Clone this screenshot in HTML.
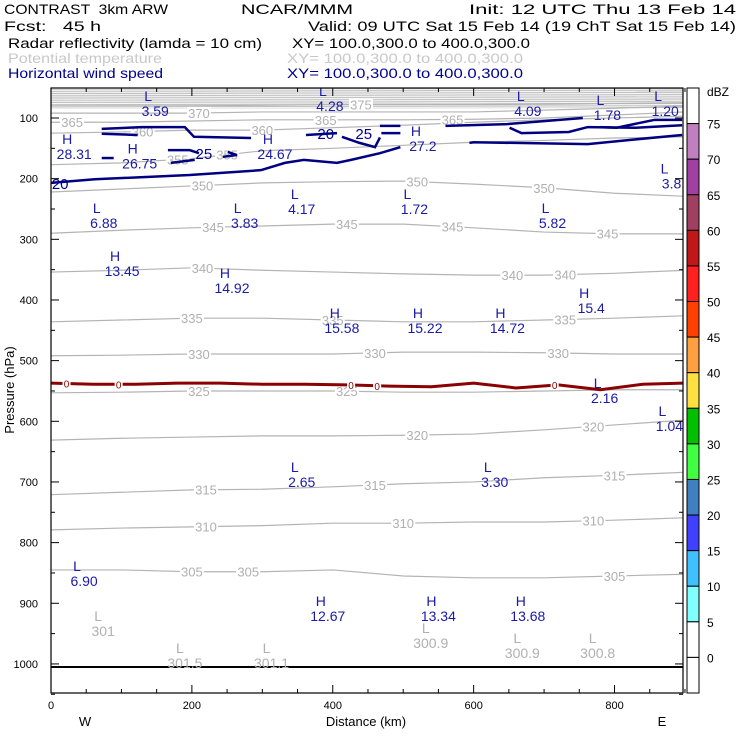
<!DOCTYPE html>
<html><head><meta charset="utf-8"><style>
html,body{margin:0;padding:0;background:#fff}
svg{display:block;font-family:"Liberation Sans",sans-serif}
text{white-space:pre}
</style></head><body>
<svg id="chart" width="740" height="740" viewBox="0 0 740 740" xmlns="http://www.w3.org/2000/svg">
<g font-size="14" lengthAdjust="spacingAndGlyphs">
<text x="4" y="14" textLength="164" lengthAdjust="spacingAndGlyphs">CONTRAST  3km ARW</text>
<text x="241" y="14" textLength="112" lengthAdjust="spacingAndGlyphs">NCAR/MMM</text>
<text x="469" y="14" textLength="267" lengthAdjust="spacingAndGlyphs">Init: 12 UTC Thu 13 Feb 14</text>
<text x="4" y="31" textLength="97" lengthAdjust="spacingAndGlyphs">Fcst:   45 h</text>
<text x="308" y="31" textLength="428" lengthAdjust="spacingAndGlyphs">Valid: 09 UTC Sat 15 Feb 14 (19 ChT Sat 15 Feb 14)</text>
<text x="8" y="48" textLength="254" lengthAdjust="spacingAndGlyphs">Radar reflectivity (lamda = 10 cm)</text>
<text x="292" y="48" textLength="238" lengthAdjust="spacingAndGlyphs">XY= 100.0,300.0 to 400.0,300.0</text>
<text x="8" y="63" fill="#c8c8c8" textLength="154" lengthAdjust="spacingAndGlyphs">Potential temperature</text>
<text x="287" y="63" fill="#c8c8c8" textLength="236" lengthAdjust="spacingAndGlyphs">XY= 100.0,300.0 to 400.0,300.0</text>
<text x="8" y="78" fill="#000090" textLength="155" lengthAdjust="spacingAndGlyphs">Horizontal wind speed</text>
<text x="287" y="78" fill="#000090" textLength="236" lengthAdjust="spacingAndGlyphs">XY= 100.0,300.0 to 400.0,300.0</text>
</g>
<defs><clipPath id="pc"><rect x="51" y="88" width="632" height="605"/></clipPath></defs>
<g id="plot" clip-path="url(#pc)"></g>
<g id="axes"></g>
<g id="cbar"></g>
<text x="14" y="390" transform="rotate(-90 14 390)" text-anchor="middle" font-size="13">Pressure (hPa)</text>
<text x="366" y="726" text-anchor="middle" font-size="13">Distance (km)</text>
<text x="85" y="726" text-anchor="middle" font-size="13">W</text>
<text x="662" y="726" text-anchor="middle" font-size="13">E</text>
</svg>
<script>
const NS="http://www.w3.org/2000/svg";
// axis domain
const kmTicks=[0,200,400,600,800];
const pTicks=[100,200,300,400,500,600,700,800,900,1000];
// potential temperature contours (K), pressure (hPa) at distances thetaKm
const thetaKm=[0,100,200,300,400,500,600,700,800,900];
const thetaLevels=[375,370,365,360,355,350,345,340,335,330,325,320,315,310,305];
const thetaP=[
[80,80,80,79,78,78,78,77,76,75],
[92,92,92,90,90,90,90,87,84,80],
[107,107,105,103,103,103,102,100,95,90],
[125,123,120,120,116,112,107,103,100,97],
[177,174,167,154,150,145,140,137,133,131],
[222,217,212,207,205,204,209,215,224,229],
[290,285,281,278,275,275,281,288,291,291],
[354,351,347,351,354,357,359,359,356,351],
[436,433,430,430,433,436,436,433,430,426],
[492,491,489,489,489,486,486,487,489,489],
[553,552,550,550,550,552,552,550,548,548],
[631,628,626,624,624,623,621,614,606,598],
[721,717,713,712,708,703,700,693,689,684],
[779,776,774,772,768,768,766,766,763,759],
[845,845,848,848,845,855,858,858,855,852]];
// theta labels: [level, km]
const thetaLabelLevel=[365,370,365,375,365,360,360,355,355,350,350,350,345,345,345,345,340,340,340,335,335,335,330,330,330,325,325,320,320,315,315,315,310,310,310,305,305,305];
const thetaLabelKm=[30,210,390,440,570,130,300,180,250,215,520,700,230,420,570,790,215,655,730,200,400,730,210,460,720,210,420,520,770,220,460,800,220,500,770,200,280,800];
// wind speed contours (m/s) : km and hPa
const windKm=[[0,62,197,298,332,359,406,426,467,496],[560,648,755],[651,668,735,762,830,896],[594,600,762,823,896],[779,803,857,896],[362,406],[413,438,460,467],[467,496],[469,496],[72,129,190,203,284],[72,123],[166,197,210],[251,264,244],[170,204],[72,89]];
const windP=[[207,201,194,186,174,169,174,169,158,148],[113,110,100],[116,125,123,115,116,112],[141,140,143,136,128],[115,116,103,103],[128,125],[131,141,148,132],[113,113],[125,125],[118,115,115,131,133],[126,128],[153,153,158],[156,161,164],[174,169],[166,166]];
const windLabelText=["20","25","20","25"];
const windLabelKm=[13,217,390,444];
const windLabelP=[207,158,125,125];
// reflectivity 0 dBZ contour
const dbzKm=[0,60,120,180,240,300,360,420,480,540,600,660,720,780,840,900];
const dbzP=[537,539,539,537,537,539,539,540,542,543,537,545,540,548,539,537];
const dbzLabelKm=[22,96,426,463,715];
// highs/lows
const hlType=["L","L","L","L","L","H","H","H","H","L","L","L","L","L","L","H","H","H","H","H","H","L","L","L","L","L","H","H","H"];
const hlVal=["3.59","4.28","4.09","1.78","1.20","28.31","26.75","24.67","27.2","3.8","4.17","1.72","6.88","3.83","5.82","13.45","14.92","15.58","15.22","14.72","15.4","2.16","1.04","2.65","3.30","6.90","12.67","13.34","13.68"];
const hlKm=[138,386,667,780,862,23,116,308,518,871,346,506,65,265,702,91,247,403,521,638,757,776,868,346,620,37,383,540,667];
const hlP=[62,54,62,69,62,133,149,133,120,182,224,224,247,247,247,326,354,420,420,420,387,535,581,674,674,837,895,895,895];
// theta lows near surface
const tlVal=["301","301.5","301.1","300.9","300.9","300.8"];
const tlKm=[67,183,306,532,662,769];
const tlP=[919,972,972,939,956,956];
const groundP=1005;
// colorbar
const cbLevels=[75,70,65,60,55,50,45,40,35,30,25,20,15,10,5,0];
const cbColors=["#ffffff","#c080c0","#a040a0","#a04060","#c01818","#ff2020","#ff4000","#ffa040","#ffe040","#00c000","#40ff40","#4080c0","#4040ff","#40c0ff","#80ffff","#ffffff","#ffffff"];

const X=km=>51+km*0.7044, Y=p=>118+(p-100)*0.6066;
function el(t,a,parent){const e=document.createElementNS(NS,t);for(const k in a)e.setAttribute(k,a[k]);parent.appendChild(e);return e;}
const plot=document.getElementById('plot'),axes=document.getElementById('axes'),cbar=document.getElementById('cbar');
// top stratosphere band
let band=el('rect',{x:51,y:88,width:632,height:Y(84)-88,fill:'#c0c0c0'},plot);


for(let p=52;p<86;p+=3){let l=el('line',{x1:51,x2:683,y1:Y(p),y2:Y(p)+1,stroke:'#fff','stroke-width':0.8},plot);

}
// theta lines
thetaLevels.forEach((lv,i)=>{const pts=thetaKm.map((k,j)=>X(k)+','+Y(thetaP[i][j])).join(' ');
const l=el('polyline',{points:pts,fill:'none',stroke:'#b4b4b4','stroke-width':1.2},plot);

});
function interpP(row,km){for(let j=0;j<thetaKm.length-1;j++){if(km<=thetaKm[j+1]){const t=(km-thetaKm[j])/(thetaKm[j+1]-thetaKm[j]);return row[j]+t*(row[j+1]-row[j]);}}return row[row.length-1];}
thetaLabelLevel.forEach((lv,i)=>{const r=thetaP[thetaLevels.indexOf(lv)];const x=X(thetaLabelKm[i]),y=Y(interpP(r,thetaLabelKm[i]));
const bg=el('rect',{x:x-12,y:y-6,width:24,height:12,fill:'#fff'},plot);


const t=el('text',{x:x,y:y+5,'text-anchor':'middle','font-size':13,fill:'#b0b0b0'},plot);t.textContent=lv;

});
// ground
const g=el('line',{x1:51,x2:683,y1:Y(groundP),y2:Y(groundP),stroke:'#000','stroke-width':2},plot);


// dbz line
const d=el('polyline',{points:dbzKm.map((k,j)=>X(k)+','+Y(dbzP[j])).join(' '),fill:'none',stroke:'#8b0000','stroke-width':3},plot);


function interpP2(km){for(let j=0;j<dbzKm.length-1;j++){if(km<=dbzKm[j+1]){const t=(km-dbzKm[j])/(dbzKm[j+1]-dbzKm[j]);return dbzP[j]+t*(dbzP[j+1]-dbzP[j]);}}return dbzP[dbzP.length-1];}
dbzLabelKm.forEach(k=>{const x=X(k),y=Y(interpP2(k));const b=el('rect',{x:x-4,y:y-5,width:8,height:10,fill:'#fff'},plot);


const t=el('text',{x:x,y:y+4,'text-anchor':'middle','font-size':10,fill:'#8b0000'},plot);t.textContent='0';

});
// wind
windKm.forEach((ks,i)=>{const l=el('polyline',{points:ks.map((k,j)=>X(k)+','+Y(windP[i][j])).join(' '),fill:'none',stroke:'#000080','stroke-width':2.5},plot);

});
windLabelText.forEach((s,i)=>{const t=el('text',{x:X(windLabelKm[i]),y:Y(windLabelP[i])+6,'text-anchor':'middle','font-size':15,fill:'#000090'},plot);t.textContent=s;

});
// H/L
hlType.forEach((s,i)=>{const x=X(hlKm[i]),y=Y(hlP[i]);
const a=el('text',{x:x,y:y+6,'text-anchor':'middle','font-size':14,fill:'#1a1aa8'},plot);a.textContent=s;


const b=el('text',{x:x+7,y:y+21,'text-anchor':'middle','font-size':14,fill:'#1a1aa8'},plot);b.textContent=hlVal[i];

});
tlVal.forEach((s,i)=>{const x=X(tlKm[i]),y=Y(tlP[i]);
const a=el('text',{x:x,y:y+6,'text-anchor':'middle','font-size':14,fill:'#b0b0b0'},plot);a.textContent='L';


const b=el('text',{x:x+5,y:y+21,'text-anchor':'middle','font-size':14,fill:'#b0b0b0'},plot);b.textContent=s;

});
// frame & ticks
const fr=el('rect',{x:51,y:88,width:632,height:605,fill:'none',stroke:'#000','stroke-width':1.2},axes);


for(let k=0;k<=900;k+=50){const x=X(k);const big=k%200===0;
const t1=el('line',{x1:x,x2:x,y1:693,y2:big?685:689,stroke:'#000'},axes);


const t2=el('line',{x1:x,x2:x,y1:88,y2:big?96:92,stroke:'#000'},axes);

}
kmTicks.forEach(k=>{const t=el('text',{x:X(k),y:709,'text-anchor':'middle','font-size':11},axes);t.textContent=k;

});
for(let p=100;p<=1050;p+=50){const y=Y(p);const big=p%100===0;
const a=el('line',{x1:51,x2:big?59:55,y1:y,y2:y,stroke:'#000'},axes);


const b=el('line',{x1:683,x2:big?675:679,y1:y,y2:y,stroke:'#000'},axes);

}
pTicks.forEach(p=>{const t=el('text',{x:38,y:Y(p)+4,'text-anchor':'end','font-size':11},axes);t.textContent=p;

});
// colorbar
const cbTop=88,cbStep=(693-88)/cbColors.length;
cbColors.forEach((c,i)=>{const r=el('rect',{x:687,y:cbTop+i*cbStep,width:12,height:cbStep,fill:c,stroke:'#000','stroke-width':1},cbar);

});
cbLevels.forEach((v,i)=>{const t=el('text',{x:707,y:cbTop+(i+1)*cbStep+5,'font-size':12},cbar);t.textContent=v;

});
const u=el('text',{x:707,y:96,'font-size':12},cbar);u.textContent='dBZ';


</script>
</body></html>
